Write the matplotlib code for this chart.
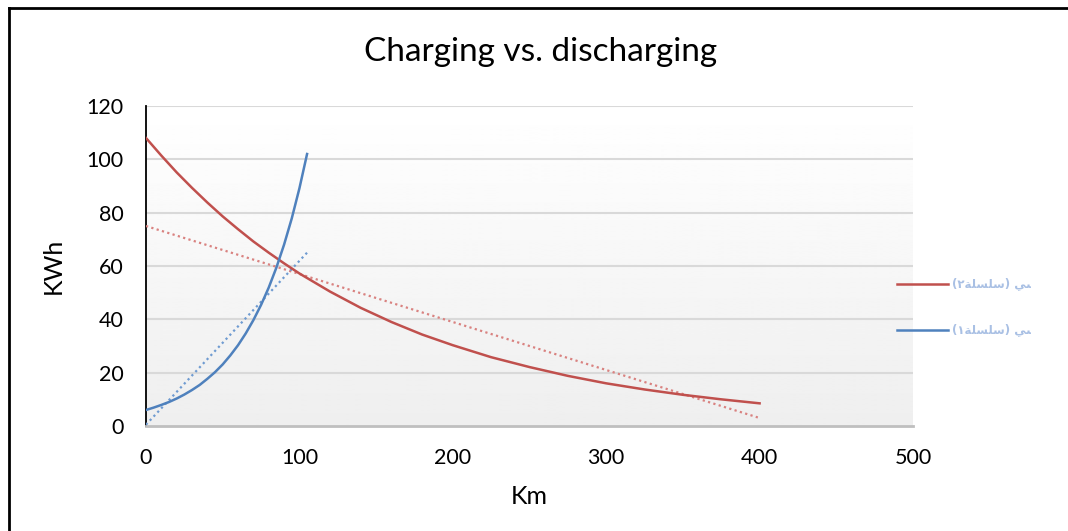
import matplotlib.pyplot as plt
import numpy as np
from matplotlib.lines import Line2D
from matplotlib.transforms import Bbox, TransformedBbox

# discharging curve (red)
km_dis = [0, 10, 20, 30, 40, 50, 60, 70, 80, 90, 100, 120, 140, 160, 180, 200,
          225, 250, 275, 300, 325, 350, 375, 400]
kwh_dis = [108, 101.4, 95.1, 89.3, 83.8, 78.6, 73.8, 69.2, 65.0, 61.0, 57.2,
           50.4, 44.3, 39.0, 34.3, 30.3, 25.8, 22.1, 18.8, 16.0, 13.7, 11.7, 10.0, 8.5]

# charging curve (blue)
km_chg = [0, 5, 10, 15, 20, 25, 30, 35, 40, 45, 50, 55, 60, 65, 70, 75, 80,
          85, 90, 95, 100, 105]
kwh_chg = [6, 6.9, 7.9, 9.0, 10.3, 11.8, 13.5, 15.4, 17.7, 20.2, 23.1, 26.5,
           30.3, 34.7, 39.7, 45.4, 51.9, 59.4, 68.0, 77.8, 89.1, 102]

# dotted linear trend lines
km_dis_trend = [0, 400]
kwh_dis_trend = [75, 3]
km_chg_trend = [0, 105]
kwh_chg_trend = [0.5, 65]

x_ticks = [0, 100, 200, 300, 400, 500]
y_ticks = [0, 20, 40, 60, 80, 100, 120]

# legend labels (Arabic, shaped glyphs in visual order)
label_red = "(\u0662\uFE94\uFEE0\uFEB4\uFEE0\uFEB3) \uFEF2\uFEB3\uFE83"
label_blue = "(\u0661\uFE94\uFEE0\uFEB4\uFEE0\uFEB3) \uFEF2\uFEB3\uFE83"

red = "#c0504d"
blue = "#4f81bd"

plt.rcParams["font.family"] = ["Lato", "DejaVu Sans"]

fig = plt.figure(figsize=(10.68, 5.31), dpi=100)
ax = fig.add_axes([146 / 1068, 1 - 426 / 531, 767 / 1068, 320 / 531])

# background gradient white -> light grey
grad = np.linspace(1.0, 0.935, 256).reshape(-1, 1)
ax.imshow(grad, cmap="gray", vmin=0, vmax=1, aspect="auto",
          extent=[0, 500, 0, 120], origin="upper", zorder=0)

ax.set_xlim(0, 500)
ax.set_ylim(0, 120)
ax.set_xticks(x_ticks)
ax.set_yticks(y_ticks)
ax.tick_params(length=0, labelsize=15.5)
ax.tick_params(axis="y", pad=16)
ax.tick_params(axis="x", pad=16)

for y in y_ticks[1:]:
    ax.axhline(y, color="#d9d9d9", lw=1.5, zorder=1)

ax.spines["top"].set_visible(False)
ax.spines["right"].set_visible(False)
ax.spines["left"].set_color("black")
ax.spines["left"].set_linewidth(1.3)
ax.spines["bottom"].set_color("#bfbfbf")
ax.spines["bottom"].set_linewidth(2)

ax.plot(km_dis_trend, kwh_dis_trend, color="#d98280", lw=1.6, ls=(0, (1, 1.5)), zorder=3)
ax.plot(km_chg_trend, kwh_chg_trend, color="#6f9bd1", lw=1.6, ls=(0, (1, 1.5)), zorder=3)
ax.plot(km_dis, kwh_dis, color=red, lw=1.8, zorder=4)
ax.plot(km_chg, kwh_chg, color=blue, lw=1.8, zorder=4)

ax.set_xlabel("Km", fontsize=18, labelpad=12)
ax.set_ylabel("KWh", fontsize=18, labelpad=16)
fig.text(541 / 1068, 1 - 52 / 531, "Charging vs. discharging", fontsize=24,
         ha="center", va="center")

# frame lines on top and left
fig.add_artist(Line2D([9 / 1068, 1], [1 - 8 / 531, 1 - 8 / 531], color="black", lw=2))
fig.add_artist(Line2D([9 / 1068, 9 / 1068], [0, 1 - 8 / 531], color="black", lw=2))

# legend drawn by hand, clipped at the right edge like the original
clip = TransformedBbox(Bbox([[0, 0], [1031 / 1068, 1]]), fig.transFigure)
for yy, col, lab in [(284, red, label_red), (330, blue, label_blue)]:
    yf = 1 - yy / 531
    fig.add_artist(Line2D([897 / 1068, 948 / 1068], [yf, yf], color=col, lw=1.8))
    t = fig.text(952 / 1068, yf, lab, fontsize=8.5, fontweight="bold",
                 color="#a9c0e4", ha="left", va="center",
                 family=["DejaVu Sans"])
    t.set_clip_box(clip)
    t.set_clip_on(True)

fig.savefig("out.png", dpi=100)
plt.close(fig)
